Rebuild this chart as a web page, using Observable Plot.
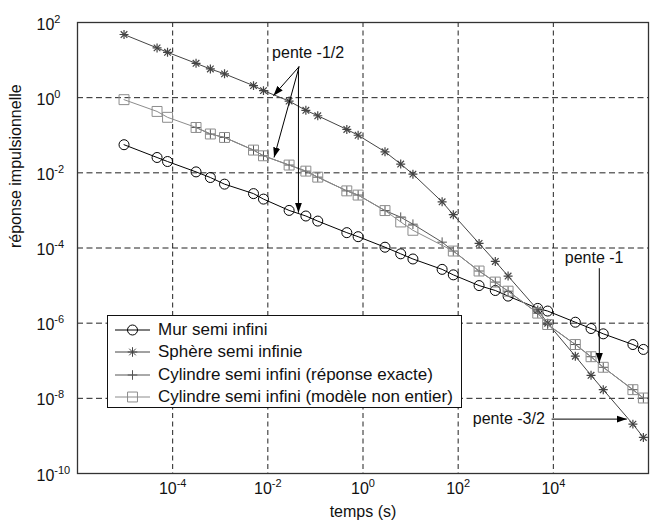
<!DOCTYPE html>
<html lang="fr">
<head>
<meta charset="utf-8">
<script src="https://cdn.jsdelivr.net/npm/d3@7"></script>
<script src="https://cdn.jsdelivr.net/npm/@observablehq/plot@0.6"></script>
<style>
  html, body { margin: 0; padding: 0; background: #fff; }
  #chart { position: relative; width: 653px; height: 530px; font-family: "Liberation Sans", Arial, Helvetica, sans-serif; }
  #legend { position: absolute; left: 107px; top: 315px; width: 355px; height: 93px; border: 1px solid #111; background: #fff; box-sizing: border-box; padding-top: 3px; }
  .row { display: flex; align-items: center; height: 22.3px; font-size: 17px; color: #111; white-space: nowrap; }
  .row svg { margin-left: 7px; margin-right: 8px; flex: none; }
</style>
</head>
<body>
<div id="chart"><div id="legend"></div></div>
<script>
// Sampling times (s)
const temps = [9.5e-6, 4.7e-5, 7.8e-5, 3.1e-4, 6.2e-4, 1.23e-3, 5.0e-3, 8.1e-3, 2.8e-2, 6.3e-2, 0.112, 0.457, 0.79,
  2.9, 6.2, 11.2, 46, 79, 275, 603, 1.12e3, 4.7e3, 7.6e3, 2.9e4, 6.2e4, 1.12e5, 4.7e5, 7.8e5];

// Impulse responses (null = no sample)
const murSemiInfini = [5.6e-2, 2.56e-2, 2.0e-2, 1.06e-2, 7.5e-3, 5.0e-3, 2.8e-3, 2.0e-3, 1.0e-3, 7.1e-4, 5.2e-4,
  2.56e-4, 2.0e-4, 1.05e-4, 7.0e-5, 5.1e-5, 2.7e-5, 1.93e-5, 1.0e-5, 7.4e-6, 5.25e-6, 2.47e-6, 2.1e-6, 1.06e-6,
  7.2e-7, 5.2e-7, 2.7e-7, 2.0e-7];
const sphereSemiInfinie = [47.9, 21.1, 16.1, 8.2, 5.8, 4.3, 2.09, 1.54, 0.81, 0.46, 0.33, 0.143, 0.1, 0.0363,
  0.0171, 0.00923, 1.69e-3, 7.7e-4, 1.32e-4, 4.4e-5, 1.79e-5, 2.25e-6, 1.0e-6, 1.32e-7, 4.1e-8, 1.7e-8, 2.06e-9, 9.1e-10];
const cylindreExact = [null, null, null, 0.161, 0.108, 0.0873, 0.0403, 0.0284, 0.0161, 0.0111, 0.00768, 3.31e-3,
  2.56e-3, 9.9e-4, 6.6e-4, 4.3e-4, 1.43e-4, 8.3e-5, 2.44e-5, 1.24e-5, 7.1e-6, 1.85e-6, 9.2e-7, 2.7e-7, 1.28e-7,
  6.7e-8, 1.7e-8, 1.02e-8];
const cylindreModele = [0.885, 0.43, 0.30, 0.161, 0.108, 0.0873, 0.0403, 0.0284, 0.0161, 0.0111, 0.00768, 3.31e-3,
  2.56e-3, 9.9e-4, 4.93e-4, 2.96e-4, null, 8.3e-5, 2.44e-5, 1.24e-5, 7.1e-6, 1.85e-6, 9.2e-7, 2.7e-7, 1.28e-7,
  6.7e-8, 1.7e-8, 1.02e-8];

const series = ["Mur semi infini", "Sphère semi infinie", "Cylindre semi infini (réponse exacte)",
  "Cylindre semi infini (modèle non entier)"];

// Axis ticks
const xTicks = [1e-4, 1e-2, 1, 1e2, 1e4];
const xTickExp = ["-4", "-2", "0", "2", "4"];
const yTicks = [1e2, 1, 1e-2, 1e-4, 1e-6, 1e-8, 1e-10];
const yTickExp = ["2", "0", "-2", "-4", "-6", "-8", "-10"];

// Slope annotations (data units)
const pentes = [
  {t: 0.0703, y: 15.8, label: "pente -1/2"},
  {t: 7.2e4, y: 5.4e-5, label: "pente -1"},
  {t: 1.16e3, y: 2.8e-9, label: "pente -3/2"}
];
const fleches = [
  {t1: 0.0455, y1: 6.7, t2: 0.0131, y2: 1.13},
  {t1: 0.0455, y1: 6.7, t2: 0.0135, y2: 0.0256},
  {t1: 0.044, y1: 6.7, t2: 0.044, y2: 8.7e-4},
  {t1: 9.25e4, y1: 2.9e-5, t2: 9.25e4, y2: 8.7e-8},
  {t1: 9.2e3, y1: 2.8e-9, t2: 3.5e5, y2: 2.8e-9}
];

const table = (ys) => temps.map((t, i) => ({t, y: ys[i]})).filter(d => d.y != null);
const mur = table(murSemiInfini);
const sphere = table(sphereSemiInfinie);
const exact = table(cylindreExact);
const modele = table(cylindreModele);

const cMur = "#000", cSphere = "#444", cExact = "#555", cModele = "#8c8c8c";
const grid = "#222";

const svg = Plot.plot({
  width: 653,
  height: 530,
  marginLeft: 77,
  marginRight: 5,
  marginTop: 22,
  marginBottom: 57,
  x: {type: "log", domain: [1e-6, 1e6], axis: null},
  y: {type: "log", domain: [1e-10, 1e2], axis: null},
  style: {fontFamily: "'Liberation Sans', Arial, Helvetica, sans-serif", fontSize: "16px", background: "#fff", color: "#111"},
  marks: [
    Plot.ruleX(xTicks, {x: d => d, stroke: grid, strokeWidth: 1, strokeDasharray: "5,3.5"}),
    Plot.ruleY(yTicks.slice(1, -1), {y: d => d, stroke: grid, strokeWidth: 1, strokeDasharray: "6,3.5"}),

    Plot.line(mur, {x: "t", y: "y", stroke: cMur, strokeWidth: 1}),
    Plot.dot(mur, {x: "t", y: "y", r: 5, stroke: cMur, fill: "none", strokeWidth: 1}),

    Plot.line(sphere, {x: "t", y: "y", stroke: cSphere, strokeWidth: 1}),
    Plot.dot(sphere, {x: "t", y: "y", symbol: "plus", r: 3, stroke: cSphere, strokeWidth: 1.2}),
    Plot.dot(sphere, {x: "t", y: "y", symbol: "times", r: 3.1, stroke: cSphere, strokeWidth: 1.2}),

    Plot.line(exact, {x: "t", y: "y", stroke: cExact, strokeWidth: 1}),
    Plot.dot(exact, {x: "t", y: "y", symbol: "plus", r: 3.2, stroke: cExact, strokeWidth: 1}),

    Plot.line(modele, {x: "t", y: "y", stroke: cModele, strokeWidth: 1}),
    Plot.dot(modele, {x: "t", y: "y", symbol: "square", r: 5.6, stroke: cModele, fill: "none", strokeWidth: 1}),

    Plot.link(fleches, {x1: "t1", y1: "y1", x2: "t2", y2: "y2", stroke: "#000", strokeWidth: 1, markerEnd: "arrow"}),
    Plot.text(pentes, {x: "t", y: "y", text: "label", fontSize: 16, fill: "#111"}),

    Plot.text(xTicks, {x: d => d, frameAnchor: "bottom", dy: 20, text: (d, i) => "10^" + xTickExp[i], fill: "#111"}),
    Plot.text(yTicks, {y: d => d, frameAnchor: "left", dx: -41, dy: 2, textAnchor: "start", text: (d, i) => "10^" + yTickExp[i], fill: "#111"}),
    Plot.text(["temps (s)"], {frameAnchor: "bottom", dy: 43, text: d => d, fill: "#111"}),
    Plot.text(["réponse impulsionnelle"], {frameAnchor: "left", dx: -62, rotate: -90, text: d => d, fill: "#111"}),

    Plot.frame({stroke: "#333", strokeWidth: 1.3})
  ]
});

// Power-of-ten tick labels: "10" with a raised exponent
svg.querySelectorAll("text").forEach(node => {
  const s = node.textContent;
  if (!s.startsWith("10^")) return;
  node.textContent = "10";
  const ts = document.createElementNS("http://www.w3.org/2000/svg", "tspan");
  ts.setAttribute("dy", -7);
  ts.setAttribute("font-size", 11);
  ts.textContent = s.slice(3);
  node.appendChild(ts);
});

// Filled triangular arrowheads
svg.querySelectorAll("marker").forEach(m => {
  m.setAttribute("viewBox", "-10 -4 10 8");
  m.setAttribute("markerWidth", 10);
  m.setAttribute("markerHeight", 8);
  m.setAttribute("markerUnits", "userSpaceOnUse");
  m.setAttribute("fill", "#000");
  m.setAttribute("stroke", "none");
  m.innerHTML = "";
  const p = document.createElementNS("http://www.w3.org/2000/svg", "path");
  p.setAttribute("d", "M0,0L-10,-3.5L-10,3.5Z");
  m.appendChild(p);
});

const chart = document.getElementById("chart");
chart.insertBefore(svg, chart.firstChild);

// Legend
const legendItems = [
  {label: series[0], color: cMur, marks: ["circle"]},
  {label: series[1], color: cSphere, marks: ["plus", "times"]},
  {label: series[2], color: cExact, marks: ["plus"]},
  {label: series[3], color: cModele, marks: ["square"]}
];
const symbolPaths = {
  plus: d3.symbol(d3.symbolPlus, Math.PI * 3.2 * 3.2)(),
  times: d3.symbol(d3.symbolTimes, Math.PI * 3.1 * 3.1)(),
  square: d3.symbol(d3.symbolSquare, Math.PI * 5.6 * 5.6)()
};
const legend = d3.select("#legend");
for (const item of legendItems) {
  const row = legend.append("div").attr("class", "row");
  const s = row.append("svg").attr("width", 35).attr("height", 16);
  s.append("line").attr("x1", 0).attr("x2", 35).attr("y1", 8).attr("y2", 8)
    .attr("stroke", item.color).attr("stroke-width", 1);
  for (const k of item.marks) {
    if (k === "circle") {
      s.append("circle").attr("cx", 17.5).attr("cy", 8).attr("r", 5)
        .attr("fill", "none").attr("stroke", item.color);
    } else {
      s.append("path").attr("transform", "translate(17.5,8)").attr("d", symbolPaths[k])
        .attr("fill", "none").attr("stroke", item.color);
    }
  }
  row.append("span").text(item.label);
}
</script>
</body>
</html>
